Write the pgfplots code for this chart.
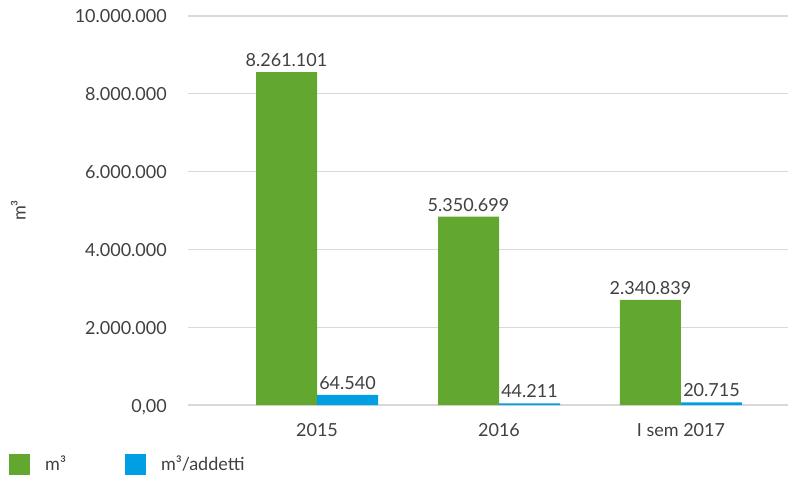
\documentclass[border=0pt]{standalone}
\usepackage{fontspec}
\setmainfont{Lato}
\usepackage{pgfplots}
\usepackage{pgfplotstable}
\pgfplotsset{compat=1.18}
\definecolor{cgreen}{HTML}{62A830}
\definecolor{cblue}{HTML}{009FE3}
\definecolor{ctext}{HTML}{404040}
\definecolor{cgrid}{HTML}{D9D9D9}
\pgfplotstableread{
x y label
0 8560000 8.261.101
1 4845000 5.350.699
2 2705000 2.340.839
}\tgreen
\pgfplotstableread{
x y label
0 258000 64.540
1 45000 44.211
2 70000 20.715
}\tblue
\begin{document}
\fontsize{18}{21}\selectfont
\begin{tikzpicture}
\useasboundingbox (0,0) rectangle (788pt,-481pt);
\begin{axis}[
  at={(188pt,-405pt)}, anchor=south west,
  scale only axis, width=600pt, height=389pt,
  ybar=0pt, bar width=61pt,
  xmin=-0.709, xmax=2.588, ymin=0, ymax=10000000,
  clip=false, scaled y ticks=false,
  axis line style={draw=none}, major tick length=0pt,
  ymajorgrids, grid style={cgrid, line width=1.2pt},
  ytick={0,2000000,4000000,6000000,8000000,10000000},
  yticklabels={{0,00},{2.000.000},{4.000.000},{6.000.000},{8.000.000},{10.000.000}},
  xtick={0,1,2}, xticklabels={2015,2016,I sem 2017},
  yticklabel style={anchor=base east, inner sep=0pt, xshift=-21pt, yshift=-7pt, text=ctext},
  xticklabel style={anchor=base, inner sep=0pt, yshift=-31pt, text=ctext},
  ylabel={m³},
  ylabel style={at={(axis description cs:-0.283,0.5)}, anchor=center, rotate=0, text=ctext},
  point meta=explicit symbolic,
  nodes near coords,
  every node near coord/.append style={anchor=base, inner sep=0pt, yshift=5.5pt, text=ctext},
  legend style={draw=none, fill=none, inner sep=0pt, outer sep=0pt,
    at={(axis description cs:-0.298,-0.154)}, anchor=west,
    legend columns=2, text=ctext,
    /tikz/every even column/.append style={column sep=57pt},
    /tikz/every odd column/.append style={column sep=13pt}},
  legend image code/.code={\fill[#1] (0pt,-10.5pt) rectangle (21pt,10.5pt);},
  legend cell align=left,
]
\addplot[fill=cgreen, draw=none] table[x=x, y=y, meta=label] {\tgreen};
\addlegendentry{m³}
\addplot[fill=cblue, draw=none] table[x=x, y=y, meta=label] {\tblue};
\addlegendentry{m³/addetti}
\end{axis}
\end{tikzpicture}
\end{document}
